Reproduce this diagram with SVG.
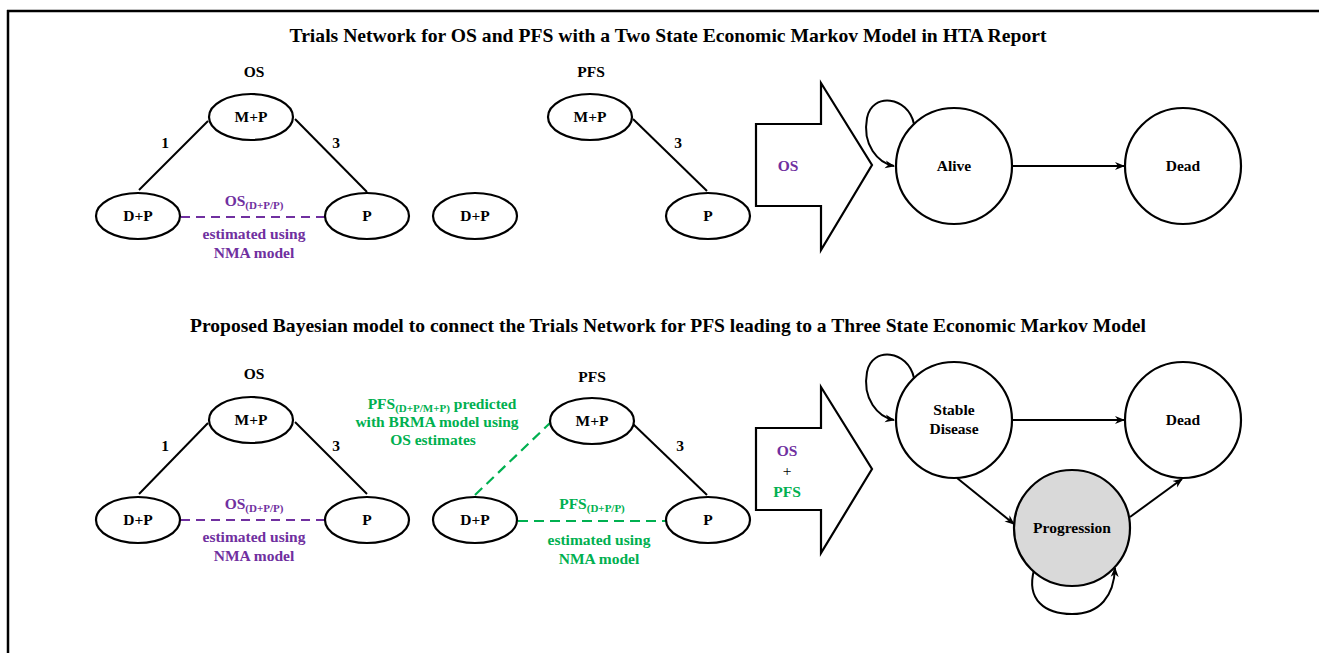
<svg xmlns="http://www.w3.org/2000/svg" width="1319" height="653" viewBox="0 0 1319 653">
<defs>
<style>
text{font-family:Liberation Serif,Tinos,DejaVu Serif,serif;font-weight:700;text-anchor:middle}
.t{font-size:19px}
.n{font-size:15.5px}
.s{font-size:11px}
.pu{fill:#7030A0}
.gr{fill:#00B050}
.e{fill:#fff;stroke:#000;stroke-width:2.2}
.ln{stroke:#000;stroke-width:2;fill:none}
.dp{stroke:#7030A0;stroke-width:2.2;stroke-dasharray:9 6;fill:none}
.dg{stroke:#00B050;stroke-width:2.2;stroke-dasharray:10 6;fill:none}
.ar{stroke:#000;stroke-width:2;fill:none;marker-end:url(#ah)}
.big{fill:#fff;stroke:#000;stroke-width:2.2}
</style>
<marker id="ah" viewBox="0 0 10 10" refX="9" refY="5" markerWidth="5" markerHeight="5" orient="auto" markerUnits="strokeWidth">
<path d="M0,1 L10,5 L0,9 L3,5 Z" fill="#000"/>
</marker>
</defs>
<rect width="1319" height="653" fill="#fff"/>
<g id="frame">
<path d="M7,11 H1319 M8,10 V653" stroke="#000" stroke-width="2.5" fill="none"/>
</g>
<g id="titles">
<text class="t" x="668" y="42" textLength="757" lengthAdjust="spacingAndGlyphs">Trials Network for OS and PFS with a Two State Economic Markov Model in HTA Report</text>
<text class="t" x="668" y="332" textLength="956" lengthAdjust="spacingAndGlyphs">Proposed Bayesian model to connect the Trials Network for PFS leading to a Three State Economic Markov Model</text>
<text class="n" x="254" y="77">OS</text>
<text class="n" x="591" y="77">PFS</text>
<text class="n" x="254" y="379">OS</text>
<text class="n" x="592" y="382">PFS</text>
</g>
<g id="connectors">
<line class="ln" x1="208" y1="121" x2="139" y2="190"/>
<line class="ln" x1="295" y1="119" x2="367" y2="192"/>
<line class="dp" x1="181" y1="217" x2="325" y2="217"/>
<line class="ln" x1="633" y1="119" x2="707" y2="191"/>
<line class="ln" x1="208" y1="423" x2="139" y2="494"/>
<line class="ln" x1="295" y1="422" x2="367" y2="494"/>
<line class="dp" x1="181" y1="520" x2="325" y2="520"/>
<line class="ln" x1="633" y1="424" x2="707" y2="495"/>
<line class="dg" x1="475" y1="495" x2="550" y2="423"/>
<line class="dg" x1="518" y1="521" x2="667" y2="521"/>
<line class="ar" x1="1013" y1="166" x2="1124" y2="166"/>
<path class="ar" d="M914,124 C908,96 872,92 867,118 C862,145 878,163 894,166"/>
<line class="ar" x1="1013" y1="420" x2="1124" y2="420"/>
<path class="ar" d="M914,378 C908,350 872,346 867,372 C862,399 878,417 894,420"/>
<line class="ar" x1="957" y1="478" x2="1014" y2="524"/>
<line class="ar" x1="1130" y1="517" x2="1182" y2="479"/>
<path class="ar" d="M1034,570 C1026,600 1045,614 1072,614 C1100,614 1114,596 1115,568"/>
</g>
<g id="labels">
<text class="n" x="165" y="148">1</text>
<text class="n" x="336" y="148">3</text>
<text class="n" x="678" y="148">3</text>
<text class="n" x="165" y="451">1</text>
<text class="n" x="336" y="451">3</text>
<text class="n" x="680" y="451">3</text>
<text class="n pu" x="254" y="206">OS<tspan class="s" dy="3">(D+P/P)</tspan></text>
<text class="n pu" x="254" y="239">estimated using</text>
<text class="n pu" x="254" y="258">NMA model</text>
<text class="n pu" x="254" y="509">OS<tspan class="s" dy="3">(D+P/P)</tspan></text>
<text class="n pu" x="254" y="542">estimated using</text>
<text class="n pu" x="254" y="561">NMA model</text>
<text class="n gr" x="442" y="409">PFS<tspan class="s" dy="3">(D+P/M+P)</tspan><tspan dy="-3"> predicted</tspan></text>
<text class="n gr" x="437" y="427">with BRMA model using</text>
<text class="n gr" x="433" y="445">OS estimates</text>
<text class="n gr" x="592" y="509">PFS<tspan class="s" dy="3">(D+P/P)</tspan></text>
<text class="n gr" x="599" y="545">estimated using</text>
<text class="n gr" x="599" y="564">NMA model</text>
</g>
<g id="os-top-mp"><ellipse class="e" cx="251" cy="117" rx="42" ry="23"/><text class="n" x="251" y="122">M+P</text></g>
<g id="os-top-dp"><ellipse class="e" cx="138" cy="216" rx="42" ry="23"/><text class="n" x="138" y="221">D+P</text></g>
<g id="os-top-p"><ellipse class="e" cx="367" cy="216" rx="42" ry="23"/><text class="n" x="367" y="221">P</text></g>
<g id="lone-dp"><ellipse class="e" cx="475" cy="216" rx="42" ry="23"/><text class="n" x="475" y="221">D+P</text></g>
<g id="pfs-top-mp"><ellipse class="e" cx="590" cy="117" rx="42" ry="23"/><text class="n" x="590" y="122">M+P</text></g>
<g id="pfs-top-p"><ellipse class="e" cx="708" cy="216" rx="42" ry="23"/><text class="n" x="708" y="221">P</text></g>
<g id="arrow-top"><polygon class="big" points="756,124 821,124 821,83 872,165 821,250 821,206 756,206"/><text class="n pu" x="788" y="171">OS</text></g>
<g id="alive"><circle class="e" cx="954" cy="166" r="58"/><text class="n" x="954" y="171">Alive</text></g>
<g id="dead-top"><circle class="e" cx="1183" cy="166" r="58"/><text class="n" x="1183" y="171">Dead</text></g>
<g id="os-bot-mp"><ellipse class="e" cx="251" cy="420" rx="42" ry="23"/><text class="n" x="251" y="425">M+P</text></g>
<g id="os-bot-dp"><ellipse class="e" cx="138" cy="520" rx="42" ry="23"/><text class="n" x="138" y="525">D+P</text></g>
<g id="os-bot-p"><ellipse class="e" cx="367" cy="520" rx="42" ry="23"/><text class="n" x="367" y="525">P</text></g>
<g id="pfs-bot-mp"><ellipse class="e" cx="592" cy="421" rx="42" ry="23"/><text class="n" x="592" y="426">M+P</text></g>
<g id="pfs-bot-dp"><ellipse class="e" cx="475" cy="520" rx="42" ry="23"/><text class="n" x="475" y="525">D+P</text></g>
<g id="pfs-bot-p"><ellipse class="e" cx="708" cy="520" rx="42" ry="23"/><text class="n" x="708" y="525">P</text></g>
<g id="arrow-bot"><polygon class="big" points="756,428 821,428 821,387 872,469 821,553 821,510 756,510"/><text class="n pu" x="787" y="456">OS</text><text class="n" x="787" y="476" font-weight="normal" style="font-weight:400">+</text><text class="n gr" x="787" y="497">PFS</text></g>
<g id="stable"><circle class="e" cx="954" cy="420" r="58"/><text class="n" x="954" y="415">Stable</text><text class="n" x="954" y="434">Disease</text></g>
<g id="dead-bot"><circle class="e" cx="1183" cy="420" r="58"/><text class="n" x="1183" y="425">Dead</text></g>
<g id="progression"><circle cx="1072" cy="528" r="58" fill="#D9D9D9" stroke="#000" stroke-width="2.2"/><text class="n" x="1072" y="533">Progression</text></g>
</svg>
